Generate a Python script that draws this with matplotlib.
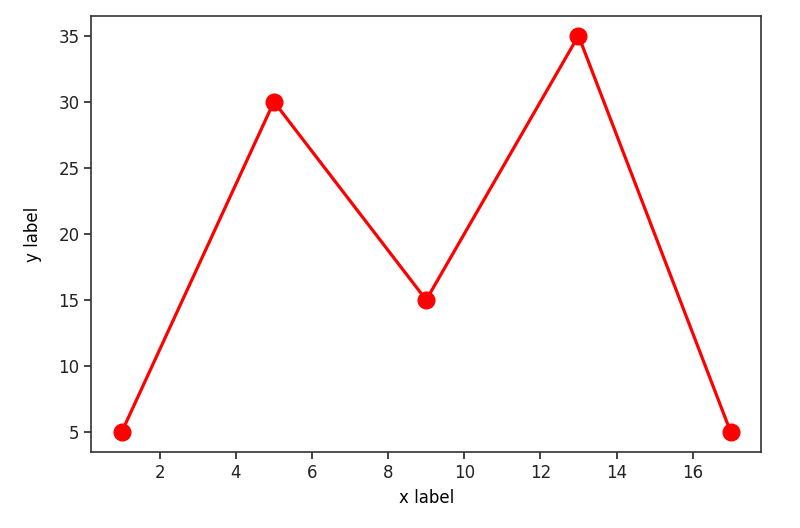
import matplotlib
matplotlib.use('Agg')
import matplotlib.pyplot as plt

# data
x_vals = [1, 5, 9, 13, 17]
y_vals = [5, 30, 15, 35, 5]

fig = plt.figure(figsize=(8, 5.28), dpi=100)
ax = fig.add_axes([0.114, 0.144, 0.8375, 0.826])
ax.plot(x_vals, y_vals, 'ro-', linewidth=2.3, markersize=12)
ax.set_xlabel('x label', fontsize=12, labelpad=5)
ax.set_ylabel('y label', fontsize=12, labelpad=12)
ax.tick_params(labelsize=12, width=1.2, length=5, colors='#222222')
for sp in ax.spines.values():
    sp.set_linewidth(1.2)
    sp.set_color('#333333')

fig.savefig('out.png', dpi=100)
